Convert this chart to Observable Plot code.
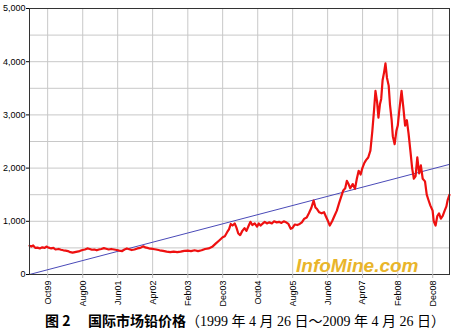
<!DOCTYPE html>
<html><head><meta charset="utf-8">
<script src="https://cdn.jsdelivr.net/npm/d3@7"></script>
<script src="https://cdn.jsdelivr.net/npm/@observablehq/plot@0.6"></script>
<style>
body{margin:0;background:#fff;width:457px;height:335px;overflow:hidden;position:relative;}
#chart{position:absolute;left:0;top:0;}
#caption{position:absolute;top:312px;left:45px;font-size:14px;white-space:pre;color:#000;font-family:"Liberation Serif","DejaVu Serif","Noto Sans CJK SC",serif;line-height:16px;z-index:2;}
#caption b{font-family:"Noto Sans CJK SC",sans-serif;font-weight:bold;}
</style></head><body><div id="chart"></div><div id="caption"><b>图 2</b>     <b>国际市场铅价格</b>（1999 年 4 月 26 日～2009 年 4 月 26 日）</div>
<script>
const priceDates = [
"1999-04-26","1999-05-12","1999-05-28","1999-06-15","1999-07-05","1999-07-25","1999-08-15","1999-09-05","1999-09-20","1999-10-10","1999-11-01","1999-11-20","1999-12-08",
"2000-01-05","2000-01-25","2000-02-15","2000-03-05","2000-03-25","2000-04-15","2000-05-05","2000-05-25","2000-06-15","2000-07-05","2000-07-30","2000-08-20","2000-09-10","2000-10-01","2000-10-20","2000-11-10","2000-12-01","2000-12-20",
"2001-01-10","2001-02-01","2001-02-20","2001-03-15","2001-04-05","2001-05-01","2001-05-25","2001-06-15","2001-07-10","2001-07-30","2001-08-20","2001-09-10","2001-10-01","2001-10-25","2001-11-20","2001-12-15",
"2002-01-10","2002-01-25","2002-02-15","2002-03-10","2002-04-05","2002-05-01","2002-06-01","2002-07-01","2002-08-01","2002-09-01","2002-10-01","2002-11-01","2002-12-01",
"2003-01-01","2003-02-01","2003-03-01","2003-04-01","2003-05-01","2003-06-01","2003-07-01","2003-08-01","2003-09-01","2003-10-01","2003-11-01","2003-12-01","2003-12-20",
"2004-01-10","2004-01-25","2004-02-10","2004-02-25","2004-03-15","2004-03-30","2004-04-15","2004-05-01","2004-05-20","2004-06-08","2004-06-25","2004-07-15","2004-07-30","2004-08-15","2004-09-05","2004-09-25","2004-10-10","2004-10-26","2004-11-15","2004-12-01","2004-12-20",
"2005-01-10","2005-02-01","2005-02-20","2005-03-15","2005-04-05","2005-04-25","2005-05-15","2005-06-05","2005-06-25","2005-07-15","2005-08-01","2005-08-20","2005-09-10","2005-10-01","2005-10-20","2005-11-10","2005-12-01","2005-12-20",
"2006-01-10","2006-01-30","2006-02-15","2006-03-01","2006-03-20","2006-04-10","2006-05-01","2006-05-15","2006-06-05","2006-06-20","2006-07-10","2006-07-30","2006-08-20","2006-09-10","2006-09-25","2006-10-15","2006-11-01","2006-11-15","2006-11-30","2006-12-15",
"2007-01-05","2007-01-25","2007-02-10","2007-02-26","2007-03-15","2007-03-30","2007-04-15","2007-05-01","2007-05-20","2007-06-08","2007-06-25","2007-07-10","2007-07-22","2007-08-05","2007-08-17","2007-08-30","2007-09-10","2007-09-22","2007-10-05","2007-10-17","2007-10-30","2007-11-14","2007-11-25","2007-12-10","2007-12-20",
"2008-01-05","2008-01-20","2008-02-01","2008-02-15","2008-03-05","2008-03-20","2008-04-05","2008-04-20","2008-05-05","2008-05-22","2008-06-05","2008-06-20","2008-07-05","2008-07-20","2008-08-05","2008-08-20","2008-09-05","2008-09-25","2008-10-10","2008-10-25","2008-11-10","2008-11-30","2008-12-10","2008-12-26",
"2009-01-10","2009-01-25","2009-02-10","2009-02-26","2009-03-15","2009-03-30","2009-04-10","2009-04-26"
];
const priceValues = [
540,525,545,500,505,490,510,500,525,505,490,500,470,
480,465,455,450,440,420,410,420,430,440,460,470,490,480,465,470,455,470,
480,495,485,470,480,470,460,450,440,470,490,475,460,470,490,500,
530,510,500,485,480,470,455,445,430,420,430,420,430,
445,450,440,455,440,455,480,490,520,580,640,700,720,
800,850,950,920,960,880,770,740,820,870,820,920,990,930,960,900,960,920,960,990,960,
980,960,1000,980,990,970,1000,980,950,860,880,940,930,950,980,1050,1070,1150,
1250,1390,1260,1230,1170,1150,1170,1100,1000,920,1000,1100,1200,1350,1450,1580,1620,1760,1700,1620,
1700,1610,1800,1950,1880,2000,2090,2150,2200,2330,2700,3100,3450,3250,2950,3200,3300,3650,3800,3970,3700,3550,3200,2900,2600,
2450,2700,2800,3100,3450,3150,2800,2900,2650,2300,2000,1800,1850,2200,1900,2050,1800,1750,1500,1400,1300,1200,1000,920,
1100,1150,1050,1100,1200,1280,1400,1500
];
const trendDates = ["1999-04-26","2009-04-26"];
const trendValues = [0, 2070];
const xTickDates = ["1999-10-01","2000-08-01","2001-06-01","2002-04-01","2003-02-01","2003-12-01","2004-10-01","2005-08-01","2006-06-01","2007-04-01","2008-02-01","2008-12-01"];
const yTickValues = [0,1000,2000,3000,4000,5000];
const yGridValues = [500,1000,1500,2000,2500,3000,3500,4000,4500];
const watermark = ["InfoMine.com"];

const parse = d3.utcParse("%Y-%m-%d");
const xTicks = xTickDates.map(parse);
const idx = d3.range(priceDates.length);
const tidx = d3.range(trendDates.length);

const chart = Plot.plot({
  width: 457,
  height: 306,
  marginTop: 8,
  marginBottom: 32,
  marginLeft: 29,
  marginRight: 8,
  style: {fontFamily: "Liberation Sans, Arial, sans-serif", fontSize: "9px", background: "transparent", color: "#000"},
  x: {type: "utc", domain: [parse(trendDates[0]), parse(trendDates[1])]},
  y: {domain: [0, 5000]},
  marks: [
    Plot.gridX(xTicks, {stroke: "#c8c8c8", strokeOpacity: 1}),
    Plot.gridY(yGridValues, {stroke: "#c8c8c8", strokeOpacity: 1}),
    Plot.text(watermark, {frameAnchor: "bottom-right", dx: -31, dy: -3, textAnchor: "end", lineAnchor: "bottom", fontSize: 19, fontWeight: "bold", fontStyle: "italic", fill: "#e9b52a", fontFamily: "Liberation Sans, Arial, sans-serif"}),
    Plot.line(tidx, {x: i => parse(trendDates[i]), y: i => trendValues[i], stroke: "#4a4ab8", strokeWidth: 1}),
    Plot.line(idx, {x: i => parse(priceDates[i]), y: i => priceValues[i], stroke: "#ee1010", strokeWidth: 2.2}),
    Plot.frame({stroke: "#333", strokeWidth: 1}),
    Plot.axisX(xTicks, {tickFormat: d3.utcFormat("%b%y"), tickRotate: -90, tickSize: 4, tickPadding: 2, label: null, stroke: "#bbb"}),
    Plot.axisY(yTickValues, {tickFormat: d3.format(","), tickSize: 3, tickPadding: 1, label: null})
  ]
});
document.getElementById("chart").appendChild(chart);
</script>
</body></html>
